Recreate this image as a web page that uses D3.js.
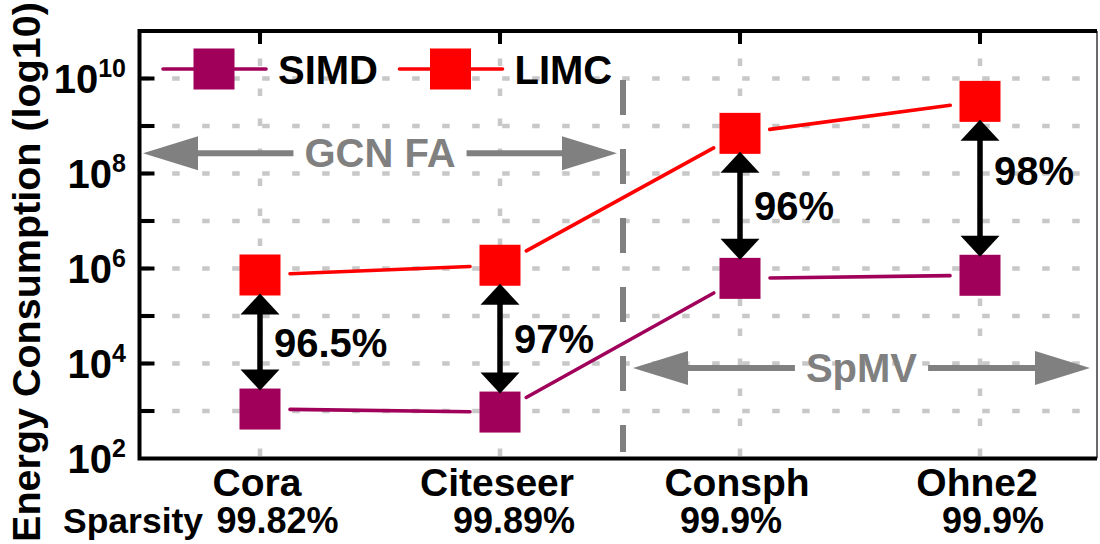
<!DOCTYPE html>
<html>
<head>
<meta charset="utf-8">
<script src="https://cdn.jsdelivr.net/npm/d3@7"></script>
<style>
  html, body { margin: 0; padding: 0; background: #fff; }
  svg { display: block; font-family: "Liberation Sans", Arial, sans-serif; font-weight: bold; }
</style>
</head>
<body>
<svg id="chart" width="1100" height="544"></svg>
<script>
// ---- data ----
const categories = ["Cora", "Citeseer", "Consph", "Ohne2"];
const sparsity = ["99.82%", "99.89%", "99.9%", "99.9%"];
const simdEnergy = [1.1e3, 9.5e2, 6.2e5, 7.2e5];
const limcEnergy = [7.3e5, 1.17e6, 7.0e8, 3.3e9];
const reductionLabels = ["96.5%", "97%", "96%", "98%"];
const yLabelExponents = [2, 4, 6, 8, 10];
const yTickExponents = [3, 4, 5, 6, 7, 8, 9, 10];
const seriesNames = ["SIMD", "LIMC"];
const regionNames = ["GCN FA", "SpMV"];
const regionLevels = [2.66e8, 8.0e3];

// ---- layout ----
const W = 1100, H = 544;
const frame = { left: 139.5, right: 1097, top: 31, bottom: 458.5 };
const colors = { SIMD: "#A0005A", LIMC: "#FF0000" };
const markerSize = 41;
const lineGap = 30;
const labelDy = [0, 0, 0, -18];
const sparsityDx = [17.5, 14, -9, 13];

const svg = d3.select("#chart");

const x = d3.scalePoint().domain(categories).range([140, 1100]).padding(0.5);
const y = d3.scaleLog().domain([1e2, 1e11]).range([frame.bottom, frame.top]);

// ---- grid ----
const grid = svg.append("g").attr("stroke", "#c8c8c8").attr("stroke-width", 4.5)
  .attr("stroke-dasharray", "7.5,22.5");
grid.selectAll("line.h").data(yTickExponents).join("line")
  .attr("class", "h")
  .attr("x1", frame.left + 2).attr("x2", frame.right - 1)
  .attr("y1", d => y(Math.pow(10, d))).attr("y2", d => y(Math.pow(10, d)))
  .attr("stroke-dashoffset", 29.3);
grid.selectAll("line.v").data(categories).join("line")
  .attr("class", "v")
  .attr("x1", d => x(d)).attr("x2", d => x(d))
  .attr("y1", frame.bottom - 2).attr("y2", frame.top + 2)
  .attr("stroke-dashoffset", 30 - 0.5);

// ---- separator between GCN FA and SpMV ----
const sepX = (x("Citeseer") + x("Consph")) / 2 + 3;
svg.append("line")
  .attr("x1", sepX).attr("x2", sepX)
  .attr("y1", frame.top + 49).attr("y2", frame.bottom - 6.5)
  .attr("stroke", "#808080").attr("stroke-width", 6)
  .attr("stroke-dasharray", "35,34");

// ---- region annotations (gray double arrows with centred label) ----
function regionArrow(label, level, xl, xr) {
  const g = svg.append("g").attr("fill", "#808080").attr("stroke", "#808080");
  const yy = y(level);
  const cx = (xl + xr) / 2;
  const t = g.append("text").attr("x", cx).attr("y", yy + 14)
    .attr("text-anchor", "middle").attr("font-size", 40).attr("stroke", "none")
    .text(label);
  const tw = t.node().getComputedTextLength();
  const head = 55, half = 17, gap = 11;
  g.append("line").attr("x1", xl + head - 1).attr("x2", cx - tw / 2 - gap)
    .attr("y1", yy).attr("y2", yy).attr("stroke-width", 6);
  g.append("line").attr("x1", cx + tw / 2 + gap).attr("x2", xr - head + 1)
    .attr("y1", yy).attr("y2", yy).attr("stroke-width", 6);
  g.append("path").attr("stroke", "none")
    .attr("d", `M${xl},${yy} L${xl + head},${yy - half} L${xl + head},${yy + half} Z`);
  g.append("path").attr("stroke", "none")
    .attr("d", `M${xr},${yy} L${xr - head},${yy - half} L${xr - head},${yy + half} Z`);
}
regionArrow(regionNames[0], regionLevels[0], frame.left + 3.5, sepX - 6);
regionArrow(regionNames[1], regionLevels[1], sepX + 10, frame.right - 7);

// ---- connecting line segments (trimmed away from the markers) ----
function segments(vals) {
  const pts = categories.map((c, i) => [x(c), y(vals[i])]);
  return d3.pairs(pts).map(([a, b]) => {
    const dx = b[0] - a[0], dy = b[1] - a[1], L = Math.hypot(dx, dy);
    const ux = dx / L, uy = dy / L;
    return [a[0] + ux * lineGap, a[1] + uy * lineGap, b[0] - ux * lineGap, b[1] - uy * lineGap];
  });
}
[["SIMD", simdEnergy], ["LIMC", limcEnergy]].forEach(([name, vals]) => {
  svg.append("g").selectAll("line").data(segments(vals)).join("line")
    .attr("x1", d => d[0]).attr("y1", d => d[1]).attr("x2", d => d[2]).attr("y2", d => d[3])
    .attr("stroke", colors[name]).attr("stroke-width", 3.6).attr("stroke-linecap", "round");
});

// ---- markers ----
[["SIMD", simdEnergy], ["LIMC", limcEnergy]].forEach(([name, vals]) => {
  svg.append("g").selectAll("rect").data(vals).join("rect")
    .attr("x", (d, i) => x(categories[i]) - markerSize / 2)
    .attr("y", d => y(d) - markerSize / 2)
    .attr("width", markerSize).attr("height", markerSize)
    .attr("fill", colors[name]);
});

// ---- reduction arrows and labels ----
const arrows = svg.append("g");
categories.forEach((c, i) => {
  const cx = x(c);
  const top = y(limcEnergy[i]) + markerSize / 2 - 2;
  const bot = y(simdEnergy[i]) - markerSize / 2 + 2;
  const head = 21, half = 19.5;
  arrows.append("line").attr("x1", cx).attr("x2", cx)
    .attr("y1", top + head - 1).attr("y2", bot - head + 1)
    .attr("stroke", "#000").attr("stroke-width", 5.5);
  arrows.append("path").attr("fill", "#000")
    .attr("d", `M${cx},${top} L${cx - half},${top + head} L${cx + half},${top + head} Z`);
  arrows.append("path").attr("fill", "#000")
    .attr("d", `M${cx},${bot} L${cx - half},${bot - head} L${cx + half},${bot - head} Z`);
  arrows.append("text")
    .attr("x", cx + 14).attr("y", (top + bot) / 2 + 14.5 + labelDy[i])
    .attr("font-size", 40).attr("fill", "#000")
    .text(reductionLabels[i]);
});

// ---- frame and axes ----
const axisG = svg.append("g");
axisG.append("line").attr("x1", frame.right).attr("x2", frame.right)
  .attr("y1", frame.top).attr("y2", frame.bottom)
  .attr("stroke", "#6a6a6a").attr("stroke-width", 2);
axisG.append("path")
  .attr("d", `M${frame.right},${frame.top} H${frame.left} V${frame.bottom} H${frame.right}`)
  .attr("fill", "none").attr("stroke", "#000").attr("stroke-width", 4);

// left ticks (inward)
axisG.selectAll("line.yt").data(yTickExponents).join("line")
  .attr("class", "yt")
  .attr("x1", frame.left).attr("x2", frame.left + 15)
  .attr("y1", d => y(Math.pow(10, d))).attr("y2", d => y(Math.pow(10, d)))
  .attr("stroke", "#000").attr("stroke-width", 4);
// top ticks (inward)
axisG.selectAll("line.xt").data(categories).join("line")
  .attr("class", "xt")
  .attr("x1", d => x(d)).attr("x2", d => x(d))
  .attr("y1", frame.top).attr("y2", frame.top + 13)
  .attr("stroke", "#000").attr("stroke-width", 4);

// y tick labels 10^n
const yl = axisG.selectAll("text.yl").data(yLabelExponents).join("text")
  .attr("class", "yl")
  .attr("x", 126).attr("y", d => y(Math.pow(10, d)) + 14.5)
  .attr("text-anchor", "end").attr("fill", "#000");
yl.append("tspan").attr("font-size", 40).text("10");
yl.append("tspan").attr("font-size", 25).attr("dy", -16).text(d => d);

// y axis title
svg.append("text")
  .attr("transform", `translate(40,272) rotate(-90)`)
  .attr("text-anchor", "middle").attr("font-size", 39.5).attr("fill", "#000")
  .text("Energy Consumption (log10)");

// category labels
svg.append("g").selectAll("text").data(categories).join("text")
  .attr("x", d => x(d) - 3).attr("y", 496)
  .attr("text-anchor", "middle").attr("font-size", 39).attr("fill", "#000")
  .text(d => d);

// sparsity row
svg.append("text").attr("x", 63).attr("y", 533)
  .attr("font-size", 35.5).attr("fill", "#000").text("Sparsity");
svg.append("g").selectAll("text").data(sparsity).join("text")
  .attr("x", (d, i) => x(categories[i]) + sparsityDx[i]).attr("y", 533)
  .attr("text-anchor", "middle").attr("font-size", 36).attr("fill", "#000")
  .text(d => d);

// ---- legend ----
const legendX = [214, 450.5];
const legend = svg.append("g").selectAll("g").data(seriesNames).join("g")
  .attr("transform", (d, i) => `translate(${legendX[i]},69)`);
legend.append("line").attr("x1", -51).attr("x2", 52).attr("y1", 0).attr("y2", 0)
  .attr("stroke", d => colors[d]).attr("stroke-width", 3.6).attr("stroke-linecap", "round");
legend.append("rect").attr("x", -markerSize / 2).attr("y", -markerSize / 2)
  .attr("width", markerSize).attr("height", markerSize)
  .attr("fill", d => colors[d]);
legend.append("text").attr("x", 64).attr("y", 14.5)
  .attr("font-size", 40).attr("fill", "#000").text(d => d);
</script>
</body>
</html>
